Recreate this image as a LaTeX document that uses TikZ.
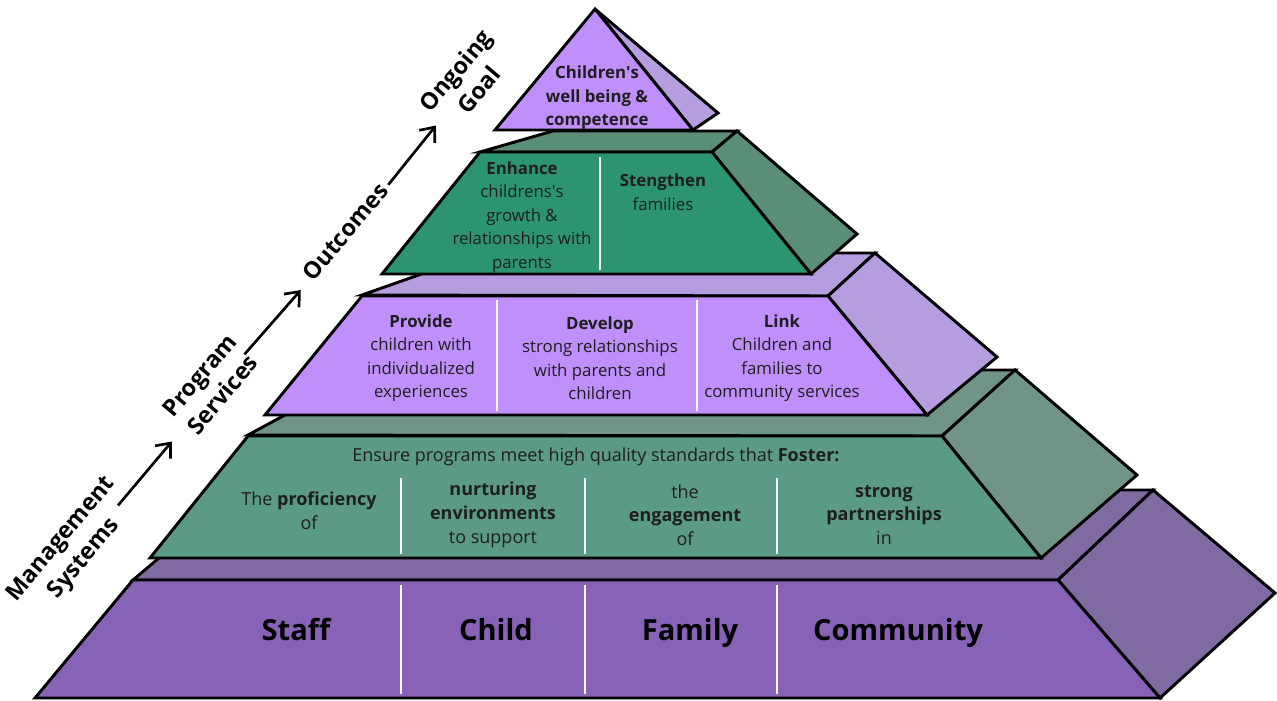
\documentclass[tikz,border=0pt]{standalone}
\usepackage{fontspec}
\setmainfont{Open Sans}
\usetikzlibrary{calc}
\usetikzlibrary{arrows.meta}

\definecolor{ink}{RGB}{30,30,30}
\definecolor{lavfront}{RGB}{191,144,252}
\definecolor{lavside}{RGB}{182,157,223}
\definecolor{greenfront}{RGB}{44,148,112}
\definecolor{greenside}{RGB}{90,142,118}
\definecolor{tealfront}{RGB}{91,154,135}
\definecolor{tealside}{RGB}{112,148,134}
\definecolor{violetfront}{RGB}{135,98,182}
\definecolor{violetside}{RGB}{128,106,162}

\begin{document}
\begin{tikzpicture}[x=0.75pt,y=-0.75pt,
  face/.style={draw=black,line width=2.2pt,line join=miter},
  divider/.style={draw=white,line width=1pt},
  txt/.style={align=center,text=ink,font=\fontsize{12.6}{17.6}\selectfont},
  widetxt/.style={align=center,text=ink,font=\fontsize{13.5}{17.8}\selectfont},
  bigtxt/.style={anchor=base,text=black,font=\fontsize{21.8}{26}\selectfont\bfseries},
  stagelbl/.style={rotate=50,align=center,text=black,font=\fontsize{17.5}{22.5}\selectfont\bfseries},
  arr/.style={-{Straight Barb[length=9pt,width=15pt,line width=2pt]},line width=2pt}]
	\useasboundingbox (0,0) rectangle (1277,700);
	% base level
	\filldraw[face,fill=violetside] (133,580)--(239,490)--(1153,490)--(1058,580)--cycle;
	\filldraw[face,fill=violetside] (1058,580)--(1153,490)--(1275,593)--(1160,698)--cycle;
	\filldraw[face,fill=violetfront] (133,580)--(1058,580)--(1160,698)--(35,698)--cycle;
	\foreach \x in {401,585,777} \draw[divider] (\x,585)--(\x,694);
	% management systems level
	\filldraw[face,fill=tealside] (248,435)--(368,370)--(1015,370)--(942,436)--cycle;
	\filldraw[face,fill=tealside] (942,436)--(1015,370)--(1137,475)--(1041,558)--cycle;
	\filldraw[face,fill=tealfront] (248,436)--(942,436)--(1041,558)--(150,558)--cycle;
	\foreach \x in {401,585,777} \draw[divider] (\x,478)--(\x,554);
	% program services level
	\filldraw[face,fill=lavside] (362,295)--(481,253)--(875,253)--(828,296)--cycle;
	\filldraw[face,fill=lavside] (828,296)--(875,253)--(997,357)--(927,415)--cycle;
	\filldraw[face,fill=lavfront] (362,296)--(828,296)--(927,415)--(265,415)--cycle;
	\foreach \x in {497,697} \draw[divider] (\x,300)--(\x,411);
	% outcomes level
	\filldraw[face,fill=greenside] (480,152)--(553,131)--(737,131)--(712,152)--cycle;
	\filldraw[face,fill=greenside] (712,152)--(737,131)--(857,234)--(811,274)--cycle;
	\filldraw[face,fill=greenfront] (480,152)--(712,152)--(811,274)--(382,274)--cycle;
	\draw[divider] (600,157)--(600,270);
	% goal
	\filldraw[face,fill=lavside] (595,9)--(718,113)--(693,130)--cycle;
	\filldraw[face,fill=lavfront] (595,9)--(693,130)--(495,130)--cycle;

	\node[txt,font=\fontsize{12.6}{17.6}\selectfont\bfseries] (wellbeing) at (597,98) {Children\textquotesingle s\\well being \&\\competence};
	\node[txt] (enhance) at (522,217) {\textbf{Enhance}\\childrens\textquotesingle s\\growth \&\\relationships with\\parents};
	\node[txt] (strengthen) at (663,192) {\textbf{Stengthen}\\families};
	\node[txt] (provide) at (421,358) {\textbf{Provide}\\children with\\individualized\\experiences};
	\node[txt] (develop) at (600,358) {\textbf{Develop}\\strong relationships\\with parents and\\children};
	\node[txt] (link) at (782,358) {\textbf{Link}\\Children and\\families to\\community services};
	\node[widetxt] (ensure) at (596,457) {Ensure programs meet high quality standards that \textbf{Foster:}};
	\node[widetxt] (proficiency) at (309,511) {The \textbf{proficiency}\\of};
	\node[widetxt] (nurturing) at (493,515) {\textbf{nurturing}\\\textbf{environments}\\to support};
	\node[widetxt] (engagement) at (685,515) {the\\\textbf{engagement}\\of};
	\node[widetxt] (partnerships) at (884,515) {\textbf{strong}\\\textbf{partnerships}\\in};
	\node[bigtxt] (staff) at (296,640) {Staff};
	\node[bigtxt] (child) at (496,640) {Child};
	\node[bigtxt] (family) at (690,640) {Family};
	\node[bigtxt] (community) at (898,640) {Community};

	\node[stagelbl] (ms) at (73,549) {Management\\Systems};
	\node[stagelbl] (ps) at (211,385) {Program\\Services};
	\node[stagelbl] (oc) at (345,232) {Outcomes};
	\node[stagelbl] (og) at (467,80) {Ongoing\\Goal};
	\draw[arr] ($(ms)!0.29!(ps)+(5,4)$)--($(ms)!0.68!(ps)+(5,4)$);
	\draw[arr] ($(ps)!0.22!(oc)+(4,3)$)--($(ps)!0.64!(oc)+(4,3)$);
	\draw[arr] ($(oc)!0.33!(og)+(3,3)$)--($(oc)!0.72!(og)+(3,3)$);
\end{tikzpicture}
\end{document}
